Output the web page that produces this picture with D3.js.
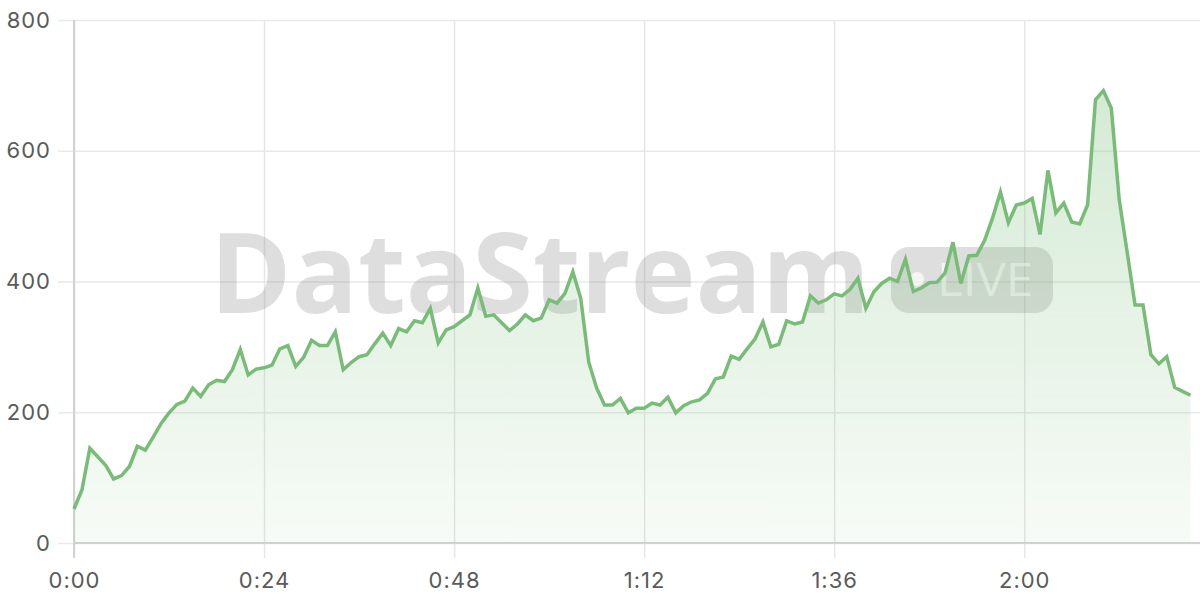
<!DOCTYPE html>
<html>
<head>
<meta charset="utf-8">
<script src="https://cdn.jsdelivr.net/npm/d3@7"></script>
<style>
  html, body { margin: 0; padding: 0; background: #ffffff; }
  svg { display: block; }
</style>
</head>
<body>
<svg id="chart" width="1200" height="600"></svg>
<script>
// Minutes since start (one sample per minute)
const values = [
  52, 81, 145, 132, 119, 98, 103, 117, 148, 142,
  162, 183, 199, 212, 217, 237, 224, 242, 249, 247,
  265, 296, 257, 266, 268, 272, 297, 302, 270, 284,
  310, 302, 302, 323, 265, 276, 285, 288, 305, 321,
  302, 328, 323, 340, 337, 359, 306, 326, 331, 340,
  349, 390, 347, 349, 337, 325, 335, 349, 340, 344,
  372, 367, 382, 415, 374, 277, 237, 211, 211, 221,
  199, 206, 206, 214, 211, 223, 199, 210, 216, 219,
  229, 251, 254, 286, 281, 297, 312, 338, 300, 304,
  340, 335, 338, 378, 367, 372, 381, 378, 388, 405,
  359, 384, 397, 405, 400, 434, 385, 390, 398, 399,
  413, 460, 397, 439, 440, 463, 497, 537, 490, 517,
  520, 527, 472, 570, 505, 520, 491, 488, 517, 678,
  692, 665, 525, 445, 364, 364, 288, 274, 285, 238,
  232, 226
];
const minutes = values.map((v, i) => i);
const xTicks = [0, 24, 48, 72, 96, 120];
const yTicks = [0, 200, 400, 600, 800];
const watermarkText = "DataStream";
const badgeText = "LIVE";

const svg = d3.select("#chart");
const W = 1200, H = 600;
const margin = { left: 74, right: 0, top: 20, bottom: 57 };

const x = d3.scaleLinear().domain([0, 142.2]).range([margin.left, W - margin.right]);
const y = d3.scaleLinear().domain([0, 800]).range([H - margin.bottom, margin.top]);

const fontFam = "Inter, 'Liberation Sans', Arial, sans-serif";
const fmt = m => `${Math.floor(m / 60)}:${String(m % 60).padStart(2, "0")}`;

// gradient
const defs = svg.append("defs");
const grad = defs.append("linearGradient").attr("id", "areaGrad")
  .attr("x1", 0).attr("y1", 0).attr("x2", 0).attr("y2", 1);
grad.append("stop").attr("offset", "0%").attr("stop-color", "#7abd7a").attr("stop-opacity", 0.32);
grad.append("stop").attr("offset", "100%").attr("stop-color", "#7abd7a").attr("stop-opacity", 0.06);

// horizontal grid (y axis)
const yAxis = d3.axisLeft(y).tickValues(yTicks).tickSize(-(W - margin.left)).tickPadding(8)
  .tickFormat(d3.format("d"));
const gy = svg.append("g").attr("transform", `translate(${margin.left},0)`).call(yAxis);
gy.select(".domain").remove();
gy.selectAll(".tick line").attr("stroke", "#e9e9e9").attr("stroke-width", 1.5)
  .attr("x1", -16);
gy.selectAll(".tick text").attr("font-family", fontFam).attr("font-size", 22)
  .attr("letter-spacing", 1).attr("fill", "#5a5a5a").attr("x", -23);

// vertical grid (x axis)
const xAxis = d3.axisBottom(x).tickValues(xTicks).tickSize(-(H - margin.bottom - margin.top))
  .tickPadding(26).tickFormat(fmt);
const gx = svg.append("g").attr("transform", `translate(0,${H - margin.bottom})`).call(xAxis);
gx.select(".domain").remove();
gx.selectAll(".tick line").attr("stroke", "#e6e6e6").attr("stroke-width", 1.5).attr("y2", 15)
  .attr("y1", -(H - margin.bottom - margin.top));
gx.selectAll(".tick text").attr("font-family", fontFam).attr("font-size", 22)
  .attr("letter-spacing", 1).attr("fill", "#5a5a5a").attr("dy", "0.71em").attr("y", 29);

// axis lines
svg.append("line").attr("x1", x(0)).attr("x2", x(0)).attr("y1", y(800)).attr("y2", y(0) + 15)
  .attr("stroke", "#d2d2d2").attr("stroke-width", 2);
svg.append("line").attr("x1", x(0)).attr("x2", W).attr("y1", y(0)).attr("y2", y(0))
  .attr("stroke", "#d2d2d2").attr("stroke-width", 2);

// watermark
const wm = svg.append("g").attr("pointer-events", "none");
wm.append("text").text(watermarkText)
  .attr("x", 210).attr("y", 313)
  .attr("font-family", "'Open Sans', 'Noto Sans', sans-serif").attr("font-weight", 700)
  .attr("font-size", 112).attr("textLength", 660).attr("lengthAdjust", "spacingAndGlyphs")
  .attr("fill", "#8a8a8a").attr("fill-opacity", 0.28);
wm.append("rect").attr("x", 891).attr("y", 247).attr("width", 162).attr("height", 66).attr("rx", 18)
  .attr("fill", "#8a8a8a").attr("fill-opacity", 0.28);
wm.append("circle").attr("cx", 917).attr("cy", 279).attr("r", 7).attr("fill", "#ffffff").attr("fill-opacity", 0.7);
wm.append("text").text(badgeText)
  .attr("x", 937).attr("y", 296)
  .attr("font-family", "'Open Sans', 'Noto Sans', sans-serif").attr("font-weight", 400)
  .attr("font-size", 46).attr("textLength", 96).attr("lengthAdjust", "spacingAndGlyphs")
  .attr("fill", "#ffffff").attr("fill-opacity", 0.7);

// area + line
const area = d3.area().x((d, i) => x(minutes[i])).y0(y(0)).y1(d => y(d));
const line = d3.line().x((d, i) => x(minutes[i])).y(d => y(d));

svg.append("path").datum(values).attr("d", area).attr("fill", "url(#areaGrad)");
svg.append("path").datum(values).attr("d", line)
  .attr("fill", "none").attr("stroke", "#78bc78").attr("stroke-width", 3.5)
  .attr("stroke-linejoin", "miter");
</script>
</body>
</html>
